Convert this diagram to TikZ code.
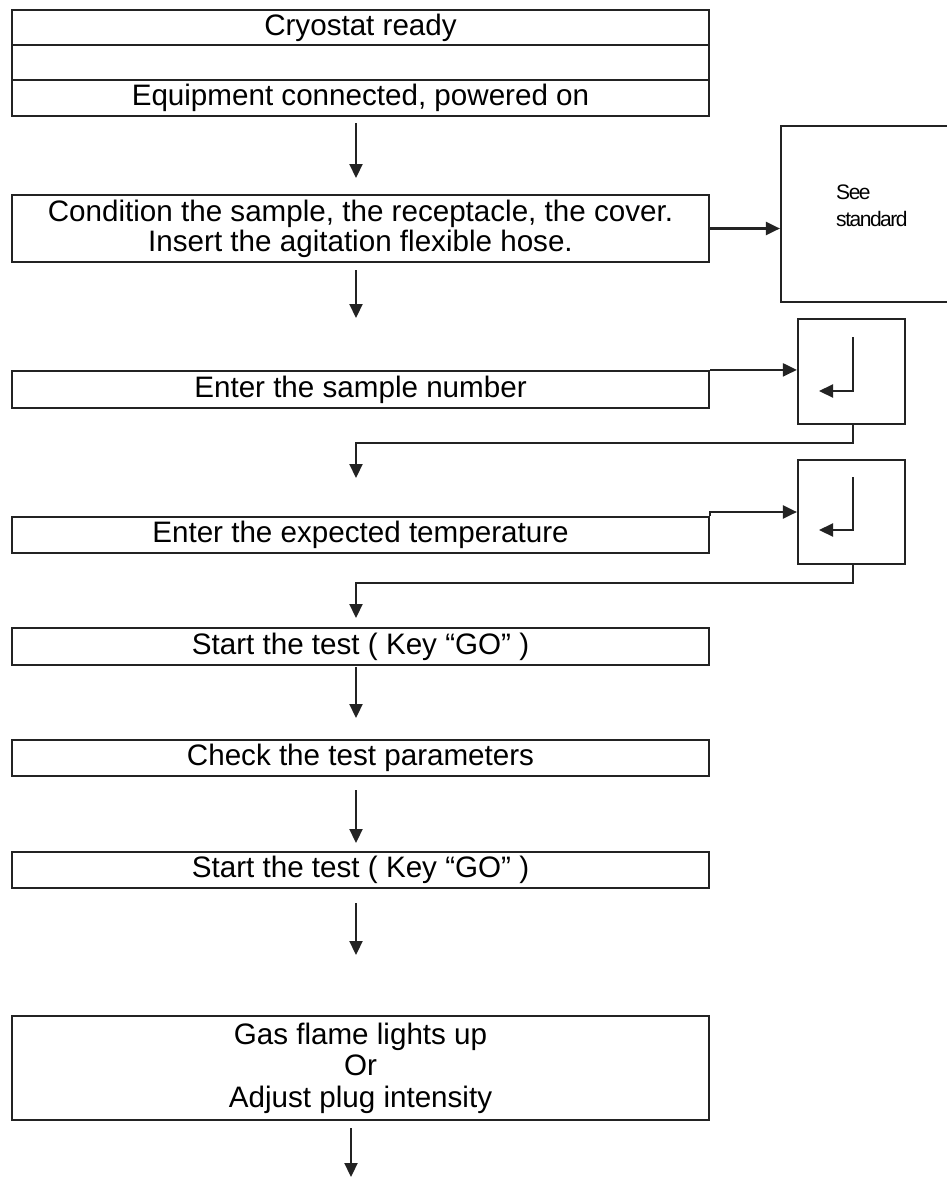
\documentclass[tikz,border=0pt]{standalone}
\usepackage{fontspec}
\setmainfont{Liberation Sans}
\usetikzlibrary{arrows.meta,calc}
\definecolor{lc}{RGB}{35,35,35}
\begin{document}
\begin{tikzpicture}[x=1pt,y=-1pt,
  box/.style={draw=lc, line width=2.2pt, rectangle, inner sep=0pt, minimum width=697pt,
    font=\fontsize{29.6}{27.5}\selectfont, align=center},
  sqbox/.style={draw=lc, line width=2.2pt, rectangle, inner sep=0pt, minimum width=107pt},
  arr/.style={draw=lc, line width=2.2pt, -{Triangle[length=14pt,width=13pt]}}]
\useasboundingbox (0,0) rectangle (947,1178);
\fill[white] (0,0) rectangle (947,1178);
% top box
\node[box, minimum height=35pt] (r1) at (360.5,27.5) {Cryostat ready};
\node[box, minimum height=35pt] (r2) at (360.5,62.5) {};
\node[box, minimum height=36pt] (r3) at (360.5,98) {Equipment connected, powered on};
% condition box
\node[box, minimum height=67pt, font=\fontsize{29.6}{30}\selectfont] (b2) at (360.5,228.5) {Condition the sample, the receptacle, the cover.\\Insert the agitation flexible hose.};
\node[draw=lc, line width=2.2pt, rectangle, inner sep=0pt, minimum width=168pt, minimum height=176pt] (ss) at (865,214) {};
\node[anchor=west, align=left, inner sep=0pt,
  font=\fontsize{21}{27}\selectfont\addfontfeature{LetterSpace=-7}] (sst) at (836,206) {See\\standard};
\draw[arr] (b2.east) -- (ss.west |- b2.east);
% sample number
\node[box, minimum height=37pt] (b3) at (360.5,389.5) {Enter the sample number};
\node[sqbox, minimum height=105pt] (sq1) at (851.5,371.5) {};
\draw[arr] (b3.north east) -- (sq1.west |- b3.north east);
\draw[arr] ($(sq1.center)+(1.5,-34.5)$) -- ++(0,54) -- ++(-34,0);
% expected temperature
\node[box, minimum height=36pt] (b4) at (360.5,535) {Enter the expected temperature};
\node[sqbox, minimum height=104pt] (sq2) at (851.5,512) {};
\draw[arr] (b4.north east) |- (sq2.west);
\draw[arr] ($(sq2.center)+(1.5,-35)$) -- ++(0,53) -- ++(-34,0);
% feedback connectors
\coordinate (f1) at (356,478);
\coordinate (f2) at (356,618);
\draw[arr] ($(sq1.south)+(1.5,0)$) -- ++(0,18) -| (f1);
\draw[arr] ($(sq2.south)+(1.5,0)$) -- ++(0,18) -| (f2);
% remaining boxes
\node[box, minimum height=37pt] (b5) at (360.5,646.5) {Start the test ( Key “GO” )};
\node[box, minimum height=36pt] (b6) at (360.5,758) {Check the test parameters};
\node[box, minimum height=36pt] (b7) at (360.5,870) {Start the test ( Key “GO” )};
\node[box, minimum height=104pt, font=\fontsize{29.6}{31.5}\selectfont] (b8) at (360.5,1068) {Gas flame lights up\\Or\\Adjust plug intensity};
% vertical arrows
\coordinate (a1s) at (356,123); \coordinate (a1e) at (356,178);
\coordinate (a2s) at (356,270); \coordinate (a2e) at (356,318);
\coordinate (a3s) at (356,667); \coordinate (a3e) at (356,718);
\coordinate (a4s) at (356,790); \coordinate (a4e) at (356,843);
\coordinate (a5s) at (356,903); \coordinate (a5e) at (356,955);
\coordinate (a6s) at (351,1128); \coordinate (a6e) at (351,1177);
\draw[arr] (a1s) -- (a1e);
\draw[arr] (a2s) -- (a2e);
\draw[arr] (a3s) -- (a3e);
\draw[arr] (a4s) -- (a4e);
\draw[arr] (a5s) -- (a5e);
\draw[arr] (a6s) -- (a6e);
\end{tikzpicture}
\end{document}
